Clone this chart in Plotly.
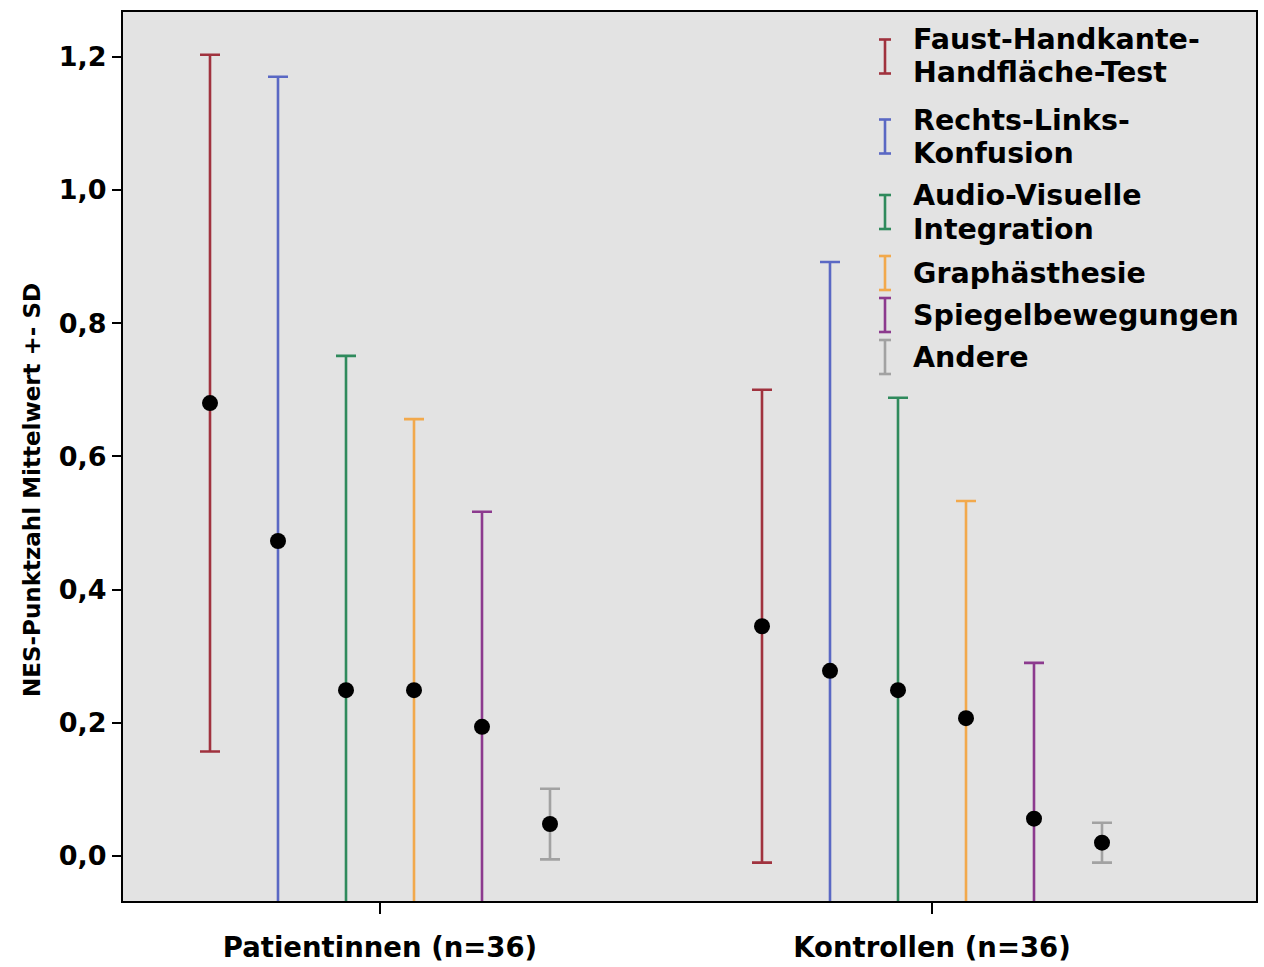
import plotly.graph_objects as go

groups = ["Patientinnen (n=36)", "Kontrollen (n=36)"]
series = ["Faust-Handkante-<br>Handfläche-Test", "Rechts-Links-<br>Konfusion",
          "Audio-Visuelle<br>Integration", "Graphästhesie", "Spiegelbewegungen", "Andere"]
colors = ["#a0323e", "#5a68c4", "#2f8a5c", "#f2a94c", "#8c3a8e", "#a2a2a2"]

means_pat = [0.680, 0.473, 0.249, 0.249, 0.194, 0.048]
sd_pat = [0.523, 0.697, 0.502, 0.407, 0.323, 0.053]
means_kon = [0.345, 0.278, 0.249, 0.207, 0.056, 0.020]
sd_kon = [0.355, 0.614, 0.439, 0.326, 0.234, 0.030]

ytick_vals = [0.0, 0.2, 0.4, 0.6, 0.8, 1.0, 1.2]
ytick_text = ["0,0", "0,2", "0,4", "0,6", "0,8", "1,0", "1,2"]
y_title = "NES-Punktzahl Mittelwert +- SD"

FONT = "DejaVu Sans"
step = 68 / 552
fig = go.Figure()
for i, name in enumerate(series):
    xs = [g + (i - 2.5) * step for g in range(len(groups))]
    fig.add_trace(go.Scatter(
        x=xs, y=[means_pat[i], means_kon[i]], mode="markers",
        marker=dict(color="black", size=16),
        error_y=dict(type="data", array=[sd_pat[i], sd_kon[i]], symmetric=True,
                     color=colors[i], thickness=2.6, width=10),
        showlegend=False, cliponaxis=True, name=name.replace("<br>", " ")))

# custom legend (error bar icons + text)
entry_lines = [[40, 73], [120, 153], [195, 229], [273], [315], [357]]
for i, name in enumerate(series):
    lines = name.split("<br>")
    ys = entry_lines[i]
    cy = sum(ys) / len(ys)
    top, bot = cy - 17, cy + 17
    x0 = 885
    fig.add_shape(type="line", xref="paper", yref="paper",
                  x0=(x0 - 123) / 1133, x1=(x0 - 123) / 1133,
                  y0=1 - (top - 12) / 889, y1=1 - (bot - 12) / 889,
                  line=dict(color=colors[i], width=2.6))
    for yy in (top, bot):
        fig.add_shape(type="line", xref="paper", yref="paper",
                      x0=(x0 - 6 - 123) / 1133, x1=(x0 + 6 - 123) / 1133,
                      y0=1 - (yy - 12) / 889, y1=1 - (yy - 12) / 889,
                      line=dict(color=colors[i], width=2.6))
    for ln, yl in zip(lines, ys):
        fig.add_annotation(text=ln, xref="paper", yref="paper",
                           x=(911 - 123) / 1133, y=1 - (yl - 12) / 889,
                           xanchor="left", yanchor="middle", showarrow=False,
                           font=dict(family=FONT, size=28.5, color="black", weight="bold"))

# y-axis title
fig.add_annotation(text=y_title, xref="paper", yref="paper",
                   x=(32 - 123) / 1133, y=1 - (490 - 12) / 889, textangle=-90,
                   xanchor="center", yanchor="middle", showarrow=False,
                   font=dict(family=FONT, size=23, color="black", weight="bold"))

fig.update_layout(
    width=1264, height=967,
    margin=dict(l=123, r=8, t=12, b=66),
    paper_bgcolor="white", plot_bgcolor="#e3e3e3",
    font=dict(family=FONT, color="black"),
    xaxis=dict(range=[-257 / 552, 1 + 324 / 552], tickvals=[0, 1], ticktext=groups,
               ticks="outside", ticklen=11, tickwidth=2, tickcolor="black",
               ticklabelstandoff=10, automargin=False,
               showline=True, linecolor="black", linewidth=2, mirror=True,
               showgrid=False, zeroline=False,
               tickfont=dict(family=FONT, size=27.5, weight="bold")),
    yaxis=dict(range=[-45 / 666, 844 / 666], tickvals=ytick_vals, ticktext=ytick_text,
               ticks="outside", ticklen=9, tickwidth=2, tickcolor="black",
               automargin=False,
               showline=True, linecolor="black", linewidth=2, mirror=True,
               showgrid=False, zeroline=False,
               tickfont=dict(family=FONT, size=27, weight="bold")),
)
fig.write_html("out.html")
